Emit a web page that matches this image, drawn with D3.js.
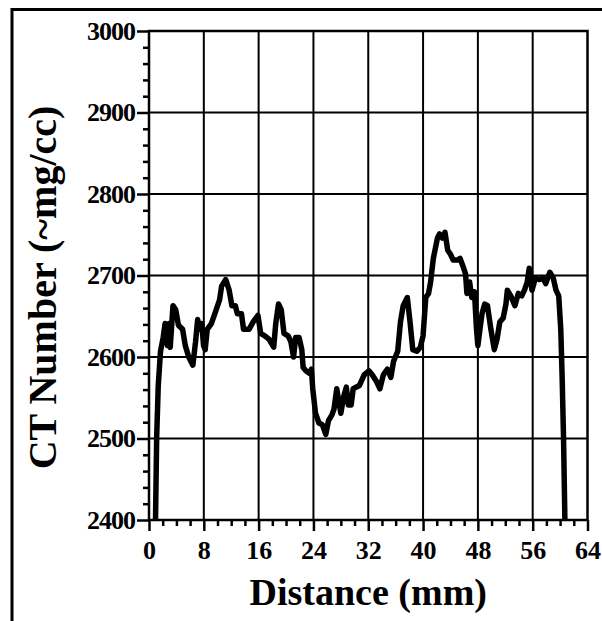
<!DOCTYPE html>
<html>
<head>
<meta charset="utf-8">
<script src="https://cdn.jsdelivr.net/npm/d3@7/dist/d3.min.js"></script>
<style>
  html, body { margin: 0; padding: 0; background: #fff; }
  svg { display: block; }
  text { font-family: "Liberation Serif", "Times New Roman", serif; font-weight: bold; fill: #000; }
</style>
</head>
<body>
<svg id="chart" width="602" height="621"></svg>
<script>
// CT number profile along the scan line
const distanceMm = [0.95, 1.12, 1.35, 1.68, 2.07, 2.35, 2.7, 2.9, 3.1, 3.5, 3.9, 4.3, 4.9, 5.3, 5.8, 6.4, 6.8, 7.1, 7.4, 7.7, 7.96, 8.2, 8.5, 9.1, 9.6, 10.3, 10.6, 11.2, 11.7, 12.1, 12.6, 12.9, 13.5, 13.8, 14.6, 15.2, 15.9, 16.3, 16.9, 17.5, 18.2, 18.5, 18.9, 19.3, 19.7, 20.3, 20.7, 21.1, 21.4, 21.9, 22.3, 22.5, 22.9, 23.4, 23.7, 23.9, 24.3, 24.8, 25.3, 25.8, 26.2, 26.7, 27.0, 27.4, 27.7, 28.0, 28.4, 28.8, 29.1, 29.5, 29.8, 30.7, 31.4, 32.1, 32.6, 33.2, 33.7, 34.2, 34.8, 35.3, 35.7, 36.3, 36.7, 37.1, 37.7, 38.1, 38.5, 39.1, 39.6, 40.0, 40.4, 40.8, 41.1, 41.5, 42.1, 42.4, 42.8, 43.2, 43.6, 44.0, 44.4, 45.0, 45.4, 45.8, 46.2, 46.4, 46.8, 47.1, 47.5, 47.8, 48.0, 48.3, 48.6, 49.0, 49.4, 49.9, 50.4, 50.8, 51.2, 51.7, 52.1, 52.3, 52.8, 53.4, 53.9, 54.4, 54.8, 55.2, 55.5, 55.9, 56.4, 57.0, 57.5, 57.9, 58.5, 59.0, 59.4, 59.8, 60.1, 60.3, 60.5, 60.7];
const ctNumber = [2400, 2502, 2565, 2607, 2624, 2641, 2614, 2641, 2612, 2663, 2658, 2639, 2634, 2614, 2600, 2590, 2619, 2646, 2634, 2641, 2614, 2609, 2634, 2641, 2653, 2670, 2687, 2695, 2682, 2663, 2663, 2653, 2653, 2634, 2634, 2643, 2651, 2629, 2626, 2622, 2612, 2641, 2665, 2658, 2629, 2626, 2619, 2600, 2624, 2624, 2609, 2587, 2583, 2580, 2585, 2561, 2531, 2519, 2517, 2505, 2522, 2529, 2536, 2561, 2546, 2531, 2551, 2563, 2541, 2541, 2561, 2565, 2578, 2583, 2578, 2570, 2561, 2578, 2585, 2575, 2595, 2607, 2643, 2663, 2673, 2643, 2609, 2607, 2612, 2626, 2673, 2678, 2692, 2721, 2746, 2751, 2746, 2753, 2731, 2726, 2719, 2719, 2721, 2712, 2702, 2678, 2692, 2673, 2680, 2634, 2614, 2634, 2653, 2665, 2663, 2634, 2609, 2622, 2643, 2648, 2665, 2682, 2675, 2663, 2678, 2675, 2682, 2692, 2709, 2682, 2697, 2695, 2697, 2690, 2704, 2697, 2682, 2675, 2634, 2575, 2502, 2400];

const xTicks = [0, 8, 16, 24, 32, 40, 48, 56, 64];
const yTicks = [2400, 2500, 2600, 2700, 2800, 2900, 3000];

const svg = d3.select("#chart");
const plot = { left: 149, right: 587.5, top: 31, bottom: 520 };

const x = d3.scaleLinear().domain([0, 64]).range([plot.left, plot.right]);
const y = d3.scaleLinear().domain([2400, 3000]).range([plot.bottom, plot.top]);

// outer border (runs off the right and bottom edges)
svg.append("rect")
  .attr("x", 12).attr("y", 9.5).attr("width", 640).attr("height", 660)
  .attr("fill", "none").attr("stroke", "#000").attr("stroke-width", 3);

// grid lines
const grid = svg.append("g").attr("stroke", "#000").attr("stroke-width", 2);
grid.selectAll(".vg").data(xTicks.slice(1, -1)).join("line")
  .attr("x1", d => x(d)).attr("x2", d => x(d))
  .attr("y1", plot.top).attr("y2", plot.bottom);
grid.selectAll(".hg").data(yTicks.slice(1, -1)).join("line")
  .attr("x1", plot.left).attr("x2", plot.right)
  .attr("y1", d => y(d)).attr("y2", d => y(d));

// plot frame
svg.append("rect")
  .attr("x", plot.left).attr("y", plot.top)
  .attr("width", plot.right - plot.left).attr("height", plot.bottom - plot.top)
  .attr("fill", "none").attr("stroke", "#000").attr("stroke-width", 2.5);

// minor ticks
const minorX = d3.range(0, 65, 2).filter(v => v % 8 !== 0);
const minorY = d3.range(2400, 3001, 20).filter(v => v % 100 !== 0);

const xMinor = d3.axisBottom(x).tickValues(minorX).tickSize(6).tickFormat("");
const yMinor = d3.axisLeft(y).tickValues(minorY).tickSize(6).tickFormat("");
svg.append("g").attr("transform", `translate(0,${plot.bottom})`).call(xMinor)
  .call(g => g.select(".domain").remove())
  .call(g => g.selectAll("line").attr("stroke-width", 2.5));
svg.append("g").attr("transform", `translate(${plot.left},0)`).call(yMinor)
  .call(g => g.select(".domain").remove())
  .call(g => g.selectAll("line").attr("stroke-width", 2.5));

// major axes
const xAxis = d3.axisBottom(x).tickValues(xTicks).tickSize(11).tickPadding(10).tickFormat(d3.format("d"));
const yAxis = d3.axisLeft(y).tickValues(yTicks).tickSize(12).tickPadding(2).tickFormat(d3.format("d"));

svg.append("g").attr("transform", `translate(0,${plot.bottom})`).call(xAxis)
  .call(g => g.select(".domain").remove())
  .call(g => g.selectAll("line").attr("stroke-width", 2.5))
  .call(g => g.selectAll("text").attr("font-size", 26).attr("dy", "0.71em")
    .style("font-family", "'Liberation Serif', serif").style("font-weight", "bold"));
svg.append("g").attr("transform", `translate(${plot.left},0)`).call(yAxis)
  .call(g => g.select(".domain").remove())
  .call(g => g.selectAll("line").attr("stroke-width", 2.5))
  .call(g => g.selectAll("text").attr("font-size", 26).attr("letter-spacing", "-1")
    .style("font-family", "'Liberation Serif', serif").style("font-weight", "bold"));

// profile line
const line = d3.line().x((d, i) => x(distanceMm[i])).y(d => y(d));
svg.append("path")
  .datum(ctNumber)
  .attr("d", line)
  .attr("fill", "none")
  .attr("stroke", "#000")
  .attr("stroke-width", 5.5)
  .attr("stroke-linejoin", "round");

// axis titles
svg.append("text")
  .attr("x", (plot.left + plot.right) / 2).attr("y", 605)
  .attr("text-anchor", "middle").attr("font-size", 38)
  .text("Distance (mm)");

svg.append("text")
  .attr("transform", `translate(56,${(105 + 470) / 2}) rotate(-90)`)
  .attr("text-anchor", "middle").attr("font-size", 40)
  .text("CT Number (~mg/cc)");
</script>
</body>
</html>
